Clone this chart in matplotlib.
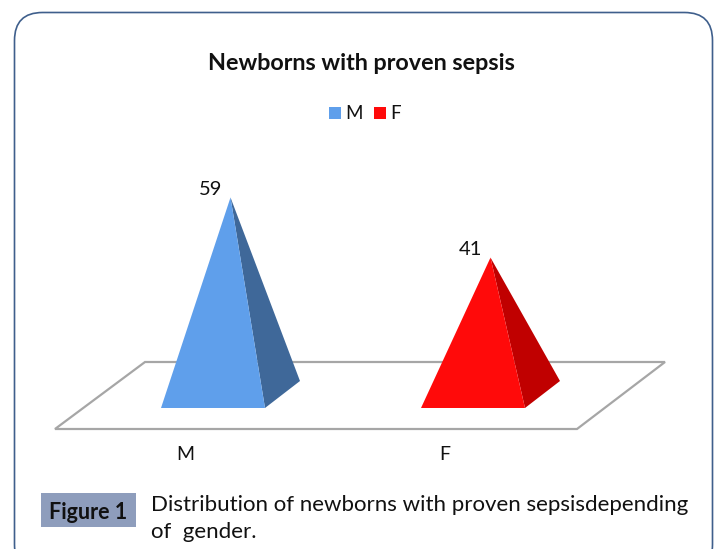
import matplotlib
matplotlib.use("Agg")
import matplotlib.pyplot as plt
from matplotlib.patches import FancyBboxPatch, Polygon, Rectangle

categories = ["M", "F"]
values = [59, 41]
face_colors = ["#5F9FEB", "#FF0A0A"]
side_colors = ["#3F6899", "#C00000"]

title = "Newborns with proven sepsis"
caption_label = "Figure 1"
caption_lines = ["Distribution of newborns with proven sepsisdepending", "of  gender."]

W, H = 716, 549
plt.rcParams["font.family"] = ["Lato", "DejaVu Sans"]

fig = plt.figure(figsize=(W / 100, H / 100), dpi=100)

# overlay in pixels for frame, floor outline and text
px = fig.add_axes([0, 0, 1, 1], zorder=1)
px.set_xlim(0, W)
px.set_ylim(H, 0)
px.axis("off")

# chart axes: x = category index, y = value, zero sits on the middle of the pyramid bases
x_unit, x0 = 260, 230.5
y_unit, y0 = 3.34, 394.5
ax = fig.add_axes([0, 0, 1, 1], zorder=2)
ax.set_xlim(-x0 / x_unit, (W - x0) / x_unit)
ax.set_ylim((y0 - H) / y_unit, y0 / y_unit)
ax.axis("off")
ax.patch.set_alpha(0)

# frame
px.add_patch(FancyBboxPatch((14.5 + 28, 12.5 + 28), 698 - 56, 560 - 56,
                            boxstyle="round,pad=28,rounding_size=28",
                            fc="white", ec="#3F5F8C", lw=1.2))

# floor
px.add_patch(Polygon([(55, 429), (577, 429), (665, 362), (145, 362)], closed=True,
                     fc="white", ec="#A6A6A6", lw=1.6))

half = 0.2
dx, dy = 0.0673, 4.04

for i, v in enumerate(values):
    left = (i - half - dx, -dy)
    right = (i + half - dx, -dy)
    back = (i + half + dx, dy)
    apex = (i, v)
    ax.add_patch(Polygon([right, back, apex], closed=True, fc=side_colors[i], ec="none"))
    ax.add_patch(Polygon([left, right, apex], closed=True, fc=face_colors[i], ec="none"))
    ax.annotate(str(v), xy=apex, xytext=(-20, 8), textcoords="offset pixels",
                ha="center", va="center", fontsize=14.5, color="#111111")
    ax.annotate(categories[i], xy=(i, 0), xytext=(-45.5, -60.5), textcoords="offset pixels",
                ha="center", va="center", fontsize=14, color="#111111")

px.text(361, 64, title, ha="center", va="center", fontsize=16.8, fontweight="bold", color="#111111")

# legend
for i, name in enumerate(categories):
    x = 329 + i * 45
    px.add_patch(Rectangle((x, 107), 12, 12, fc=face_colors[i], ec="none"))
    px.text(x + 16, 113.5, name, ha="left", va="center", fontsize=13.5, color="#111111")

# caption
px.add_patch(Rectangle((41, 493), 95, 34, fc="#8E9DBC", ec="none"))
px.text(88.5, 512.5, caption_label, ha="center", va="center", fontsize=15.5, fontweight="bold", color="#111111")
px.text(151, 505, caption_lines[0], ha="left", va="center", fontsize=16, color="#111111")
px.text(151, 532, caption_lines[1], ha="left", va="center", fontsize=16, color="#111111")

fig.savefig("out.png", dpi=100)
